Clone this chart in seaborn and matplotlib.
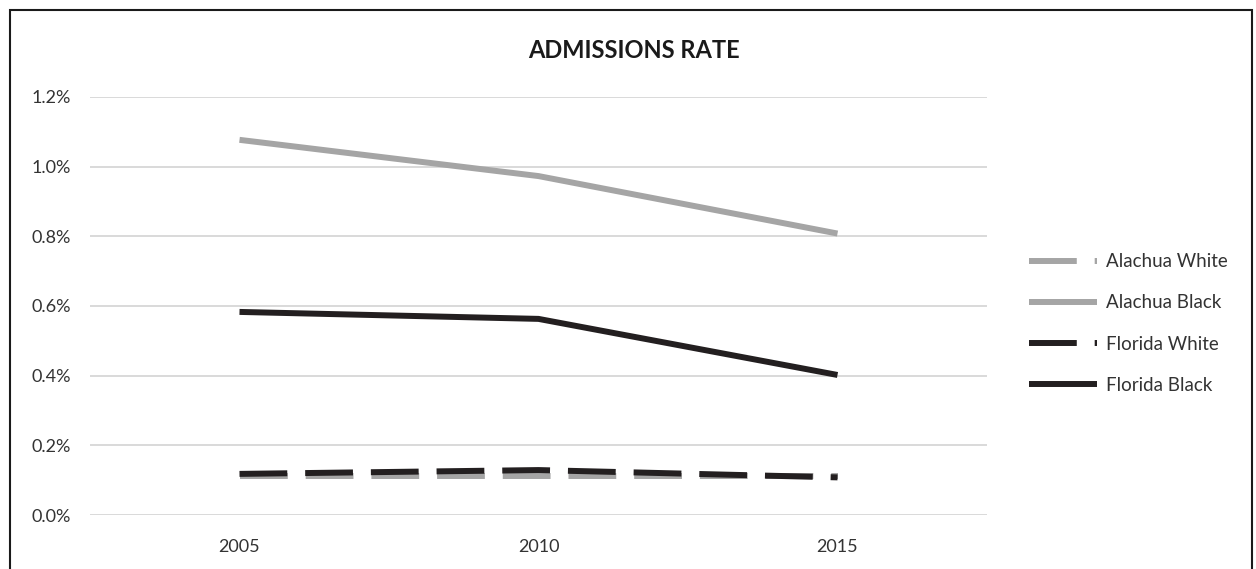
import matplotlib
matplotlib.use('Agg')
import matplotlib.pyplot as plt
import seaborn as sns
import pandas as pd
from matplotlib.patches import Rectangle
from matplotlib.ticker import FuncFormatter


# === Data ===

years = ['2005', '2010', '2015']
series = ['Alachua White', 'Alachua Black', 'Florida White', 'Florida Black']
alachua_white = [0.113, 0.113, 0.113]
alachua_black = [1.077, 0.973, 0.808]
florida_white = [0.118, 0.129, 0.108]
florida_black = [0.583, 0.563, 0.402]

colors = {
    'Alachua White': '#a5a5a5',
    'Alachua Black': '#a5a5a5',
    'Florida White': '#231f20',
    'Florida Black': '#231f20',
}
dashes = {
    'Alachua White': (8, 3),
    'Alachua Black': '',
    'Florida White': (8, 3),
    'Florida Black': '',
}

rows = []
for name, values in zip(series, [alachua_white, alachua_black, florida_white, florida_black]):
    for year, value in zip(years, values):
        rows.append({'year': year, 'rate': value, 'series': name})
data = pd.DataFrame(rows)


# === Setup ===

sns.set_style('white')
plt.rcParams['font.family'] = ['Lato', 'DejaVu Sans']

fig = plt.figure(figsize=(12.56, 5.69), dpi=100)
ax = fig.add_axes([90 / 1256, 1 - 515 / 569, 897 / 1256, 418 / 569])


# === Plot ===

sns.lineplot(
    data=data,
    x='year',
    y='rate',
    hue='series',
    style='series',
    hue_order=series,
    style_order=series,
    palette=colors,
    dashes=dashes,
    lw=4.3,
    legend=False,
    ax=ax,
)
for line in ax.get_lines():
    line.set_solid_capstyle('butt')
    line.set_dash_capstyle('butt')
    line.set_solid_joinstyle('round')

ax.set_xlim(-0.5, 2.5)
ax.set_ylim(0, 1.2)
ax.set_yticks([0, 0.2, 0.4, 0.6, 0.8, 1.0, 1.2])
ax.yaxis.set_major_formatter(FuncFormatter(lambda v, _: f'{v:.1f}%'))
ax.grid(axis='y', color='#d9d9d9', linewidth=1.4)
ax.grid(axis='x', visible=False)
ax.set_axisbelow(True)
sns.despine(ax=ax, left=True, bottom=True)
ax.tick_params(axis='y', length=0, pad=14, labelsize=13, labelcolor='#333333')
ax.tick_params(axis='x', length=0, pad=17, labelsize=13, labelcolor='#333333')
ax.set_xlabel('')
ax.set_ylabel('')

# Legend on the right.
handles = ax.get_lines()[:4]
ax.legend(
    handles, series,
    loc='center left',
    bbox_to_anchor=(1020 / 1256, 1 - 323.5 / 569),
    bbox_transform=fig.transFigure,
    frameon=False,
    borderpad=0,
    fontsize=13.5,
    handlelength=3.63,
    handletextpad=0.48,
    labelspacing=1.29,
    labelcolor='#333333',
)

fig.text(633.5 / 1256, 1 - 51 / 569, 'ADMISSIONS RATE', ha='center', va='center',
         fontsize=17, fontweight='bold', color='#1a1a1a')

# Chart border.
fig.patches.append(Rectangle((10 / 1256, -0.05), 1242 / 1256, 1.05 - 10 / 569,
                             transform=fig.transFigure, fill=False,
                             edgecolor='#1a1a1a', linewidth=1.5))

fig.savefig('out.png', dpi=100)
